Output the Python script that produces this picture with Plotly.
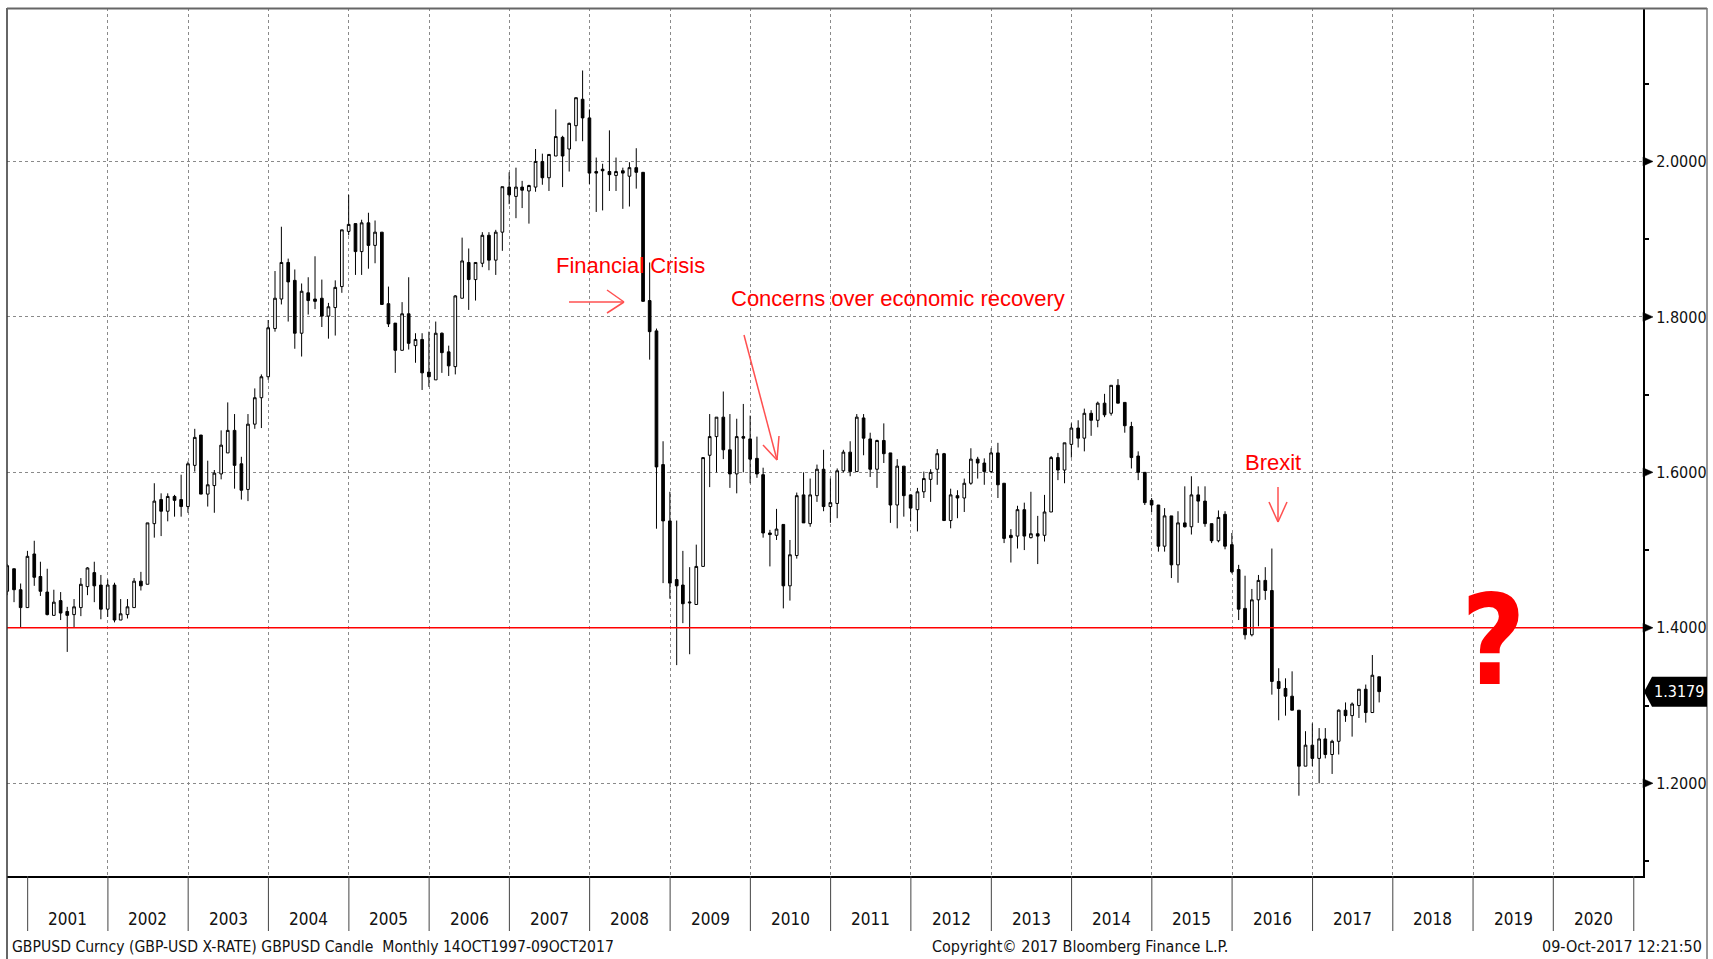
import pandas as pd
import plotly.graph_objects as go

# ---------------- data (monthly GBPUSD candles, Sep 2000 - Oct 2017) ----------------
first_month = "2000-09-30"
n_months = 206
dates = pd.date_range(first_month, periods=n_months, freq=pd.offsets.MonthEnd()).strftime("%Y-%m-%d").tolist()

opens = [
    1.447, 1.476, 1.449, 1.426,
    1.495, 1.466, 1.446, 1.416, 1.435, 1.421, 1.417, 1.426, 1.453, 1.471, 1.455, 1.424,
    1.455, 1.410, 1.417, 1.426, 1.460, 1.456, 1.534, 1.565, 1.550, 1.569, 1.565, 1.556,
    1.609, 1.648, 1.572, 1.583, 1.598, 1.625, 1.654, 1.611, 1.578, 1.662, 1.696, 1.723,
    1.785, 1.823, 1.870, 1.847, 1.779, 1.831, 1.823, 1.824, 1.801, 1.812, 1.839, 1.910,
    1.920, 1.884, 1.921, 1.892, 1.909, 1.817, 1.792, 1.757, 1.804, 1.763, 1.771, 1.729,
    1.719, 1.779, 1.755, 1.736, 1.824, 1.870, 1.848, 1.869, 1.905, 1.873, 1.909, 1.967,
    1.955, 1.967, 1.962, 1.967, 2.000, 1.979, 2.007, 2.031, 2.016, 2.046, 2.080, 2.056,
    1.987, 1.990, 1.987, 1.982, 1.988, 1.981, 1.992, 1.986, 1.821, 1.782, 1.610, 1.5375,
    1.462, 1.455, 1.432, 1.430, 1.479, 1.622, 1.646, 1.671, 1.629, 1.598, 1.646, 1.643,
    1.618, 1.597, 1.522, 1.519, 1.533, 1.454, 1.493, 1.571, 1.534, 1.570, 1.604, 1.556,
    1.560, 1.602, 1.626, 1.601, 1.670, 1.643, 1.604, 1.641, 1.625, 1.558, 1.608, 1.571,
    1.552, 1.575, 1.591, 1.604, 1.624, 1.538, 1.570, 1.567, 1.586, 1.617, 1.612, 1.601,
    1.625, 1.586, 1.519, 1.518, 1.552, 1.516, 1.521, 1.519, 1.549, 1.619, 1.603, 1.636,
    1.657, 1.644, 1.676, 1.667, 1.689, 1.676, 1.712, 1.690, 1.659, 1.621, 1.600, 1.564,
    1.558, 1.505, 1.544, 1.481, 1.535, 1.530, 1.571, 1.563, 1.534, 1.512, 1.546, 1.507,
    1.475, 1.425, 1.391, 1.436, 1.461, 1.448, 1.331, 1.322, 1.312, 1.294, 1.222, 1.249,
    1.232, 1.257, 1.237, 1.254, 1.294, 1.287, 1.300, 1.321, 1.291, 1.337,
]
highs = [
    1.482, 1.476, 1.457, 1.499,
    1.512, 1.485, 1.476, 1.449, 1.446, 1.427, 1.437, 1.464, 1.478, 1.485, 1.468, 1.462,
    1.458, 1.437, 1.437, 1.464, 1.472, 1.535, 1.586, 1.573, 1.573, 1.571, 1.597, 1.614,
    1.656, 1.648, 1.615, 1.603, 1.654, 1.690, 1.675, 1.620, 1.675, 1.708, 1.726, 1.796,
    1.859, 1.916, 1.875, 1.861, 1.843, 1.851, 1.878, 1.848, 1.818, 1.847, 1.912, 1.957,
    1.920, 1.925, 1.934, 1.924, 1.909, 1.839, 1.792, 1.819, 1.851, 1.779, 1.779, 1.781,
    1.794, 1.780, 1.763, 1.828, 1.902, 1.888, 1.870, 1.909, 1.909, 1.912, 1.9675, 1.986,
    1.992, 1.975, 1.970, 2.016, 2.010, 2.009, 2.067, 2.033, 2.050, 2.082, 2.117, 2.067,
    2.005, 1.997, 2.040, 2.005, 1.992, 1.999, 2.017, 1.986, 1.870, 1.785, 1.640, 1.575,
    1.538, 1.499, 1.478, 1.507, 1.619, 1.675, 1.671, 1.704, 1.675, 1.669, 1.688, 1.673,
    1.646, 1.606, 1.526, 1.553, 1.533, 1.513, 1.574, 1.600, 1.592, 1.610, 1.629, 1.592,
    1.605, 1.629, 1.640, 1.675, 1.675, 1.651, 1.642, 1.663, 1.625, 1.617, 1.608, 1.571,
    1.580, 1.601, 1.604, 1.630, 1.625, 1.579, 1.577, 1.592, 1.631, 1.620, 1.618, 1.631,
    1.638, 1.586, 1.527, 1.557, 1.561, 1.575, 1.544, 1.571, 1.621, 1.625, 1.638, 1.663,
    1.667, 1.682, 1.680, 1.691, 1.701, 1.712, 1.720, 1.690, 1.665, 1.627, 1.600, 1.567,
    1.558, 1.554, 1.544, 1.550, 1.582, 1.595, 1.582, 1.582, 1.534, 1.551, 1.550, 1.522,
    1.481, 1.467, 1.450, 1.468, 1.478, 1.502, 1.348, 1.335, 1.344, 1.294, 1.267, 1.277,
    1.271, 1.271, 1.256, 1.295, 1.304, 1.304, 1.321, 1.327, 1.365, 1.337,
]
lows = [
    1.442, 1.433, 1.400, 1.426,
    1.454, 1.441, 1.416, 1.416, 1.410, 1.369, 1.400, 1.415, 1.442, 1.433, 1.411, 1.414,
    1.407, 1.410, 1.412, 1.426, 1.448, 1.456, 1.516, 1.518, 1.537, 1.543, 1.543, 1.548,
    1.601, 1.572, 1.556, 1.548, 1.591, 1.625, 1.579, 1.565, 1.563, 1.656, 1.657, 1.719,
    1.781, 1.816, 1.794, 1.759, 1.749, 1.803, 1.810, 1.787, 1.772, 1.776, 1.831, 1.905,
    1.854, 1.854, 1.862, 1.869, 1.816, 1.787, 1.728, 1.757, 1.758, 1.741, 1.706, 1.710,
    1.719, 1.728, 1.724, 1.726, 1.824, 1.809, 1.821, 1.864, 1.860, 1.854, 1.885, 1.945,
    1.927, 1.940, 1.920, 1.961, 1.970, 1.962, 2.007, 1.967, 1.987, 2.026, 2.026, 1.971,
    1.935, 1.937, 1.962, 1.962, 1.939, 1.942, 1.965, 1.820, 1.745, 1.5275, 1.4575, 1.4375,
    1.352, 1.406, 1.366, 1.430, 1.479, 1.581, 1.600, 1.617, 1.580, 1.573, 1.600, 1.586,
    1.593, 1.516, 1.479, 1.513, 1.425, 1.435, 1.489, 1.535, 1.530, 1.562, 1.550, 1.535,
    1.541, 1.600, 1.595, 1.601, 1.622, 1.594, 1.580, 1.612, 1.535, 1.528, 1.543, 1.537,
    1.524, 1.567, 1.562, 1.584, 1.538, 1.528, 1.541, 1.549, 1.584, 1.592, 1.584, 1.599,
    1.567, 1.509, 1.484, 1.502, 1.500, 1.515, 1.482, 1.511, 1.549, 1.590, 1.586, 1.619,
    1.632, 1.627, 1.647, 1.658, 1.671, 1.673, 1.689, 1.651, 1.605, 1.590, 1.558, 1.549,
    1.498, 1.498, 1.464, 1.458, 1.529, 1.520, 1.535, 1.530, 1.509, 1.510, 1.501, 1.470,
    1.410, 1.385, 1.389, 1.402, 1.436, 1.314, 1.281, 1.287, 1.294, 1.184, 1.222, 1.222,
    1.200, 1.232, 1.212, 1.237, 1.279, 1.260, 1.284, 1.278, 1.291, 1.304,
]
closes = [
    1.480, 1.449, 1.426, 1.492,
    1.465, 1.447, 1.417, 1.433, 1.419, 1.416, 1.427, 1.456, 1.477, 1.454, 1.424, 1.455,
    1.410, 1.418, 1.427, 1.460, 1.454, 1.535, 1.563, 1.550, 1.569, 1.564, 1.556, 1.611,
    1.645, 1.572, 1.584, 1.599, 1.635, 1.654, 1.609, 1.577, 1.662, 1.696, 1.723, 1.786,
    1.824, 1.870, 1.845, 1.779, 1.833, 1.821, 1.820, 1.801, 1.813, 1.838, 1.912, 1.919,
    1.884, 1.921, 1.892, 1.909, 1.816, 1.791, 1.757, 1.804, 1.766, 1.771, 1.728, 1.723,
    1.779, 1.754, 1.737, 1.827, 1.872, 1.848, 1.870, 1.905, 1.873, 1.909, 1.9675, 1.957,
    1.967, 1.963, 1.969, 2.000, 1.979, 2.009, 2.032, 2.007, 2.049, 2.082, 2.056, 1.985,
    1.985, 1.988, 1.983, 1.987, 1.985, 1.992, 1.986, 1.820, 1.781, 1.607, 1.5375, 1.4575,
    1.454, 1.431, 1.433, 1.479, 1.619, 1.646, 1.671, 1.629, 1.598, 1.646, 1.644, 1.617,
    1.598, 1.522, 1.520, 1.527, 1.454, 1.494, 1.570, 1.535, 1.571, 1.604, 1.556, 1.561,
    1.602, 1.626, 1.601, 1.671, 1.644, 1.604, 1.641, 1.624, 1.558, 1.608, 1.570, 1.554,
    1.575, 1.592, 1.600, 1.624, 1.538, 1.571, 1.567, 1.586, 1.617, 1.612, 1.601, 1.625,
    1.584, 1.515, 1.516, 1.552, 1.518, 1.521, 1.518, 1.549, 1.619, 1.603, 1.638, 1.657,
    1.644, 1.676, 1.667, 1.689, 1.674, 1.712, 1.689, 1.660, 1.619, 1.600, 1.561, 1.558,
    1.505, 1.544, 1.481, 1.535, 1.530, 1.571, 1.563, 1.534, 1.512, 1.542, 1.505, 1.472,
    1.424, 1.391, 1.436, 1.461, 1.448, 1.331, 1.322, 1.312, 1.294, 1.222, 1.249, 1.232,
    1.257, 1.237, 1.254, 1.294, 1.287, 1.302, 1.321, 1.291, 1.339, 1.3179,
]

year_labels = [str(y) for y in range(2001, 2021)]
price_ticks = [1.2, 1.4, 1.6, 1.8, 2.0]
price_ticktext = ["1.2000", "1.4000", "1.6000", "1.8000", "2.0000"]
minor_ticks = [1.1, 1.3, 1.5, 1.7, 1.9, 2.1]
reference_level = 1.4
last_price = 1.3179
last_price_text = "1.3179"

notes = ["Financial Crisis", "Concerns over economic recovery", "Brexit"]
footer_left = "GBPUSD Curncy (GBP-USD X-RATE) GBPUSD Candle\u00a0 Monthly 14OCT1997-09OCT2017"
footer_mid = "Copyright\u00a9 2017 Bloomberg Finance L.P."
footer_right = "09-Oct-2017 12:21:50"

# ---------------- layout geometry (pixels) ----------------
W, H = 1713, 959
L, R, T, B = 7, 1643, 8, 876
Y_RANGE = [1.0807, 2.1974]
X_RANGE = ["2000-09-29", "2021-02-12"]
PPU = (B - T) / (Y_RANGE[1] - Y_RANGE[0])  # pixels per price unit


def PX(x):
    return (x - L) / (R - L)


def PY(y):
    return (B - y) / (B - T)


NARROW = "Liberation Sans Narrow, Arial Narrow, DejaVu Sans Condensed, sans-serif"
SANS = "Liberation Sans, Arial, sans-serif"
RED = "#ff0000"
ARROW = "#ff5050"

fig = go.Figure()
fig.add_trace(go.Candlestick(
    x=dates, open=opens, high=highs, low=lows, close=closes,
    increasing=dict(line=dict(color="black", width=1), fillcolor="white"),
    decreasing=dict(line=dict(color="black", width=1), fillcolor="black"),
    whiskerwidth=0, hoverinfo="skip", showlegend=False,
))

shapes = []
# reference level line
shapes.append(dict(type="line", xref="paper", yref="y", x0=0, x1=1,
                   y0=reference_level, y1=reference_level,
                   line=dict(color=RED, width=1.5), layer="above"))


def seg(x0, y0, x1, y1, color=ARROW, width=1.5):
    return dict(type="line", xref="paper", yref="paper",
                x0=PX(x0), y0=PY(y0), x1=PX(x1), y1=PY(y1),
                line=dict(color=color, width=width), layer="above")


# arrows (open V heads)
shapes += [
    seg(569, 302, 624, 302), seg(607, 290, 624, 302), seg(607, 313, 624, 302),
    seg(744, 335, 777, 460), seg(763, 445, 777, 460), seg(779, 436, 777, 460),
    seg(1278, 487, 1278, 522), seg(1269, 502, 1278, 522), seg(1287, 502, 1278, 522),
]

# band separators below plot
for yr in range(2001, 2022):
    shapes.append(dict(type="line", xref="x", yref="paper",
                       x0=f"{yr}-01-01", x1=f"{yr}-01-01", y0=0, y1=PY(931),
                       line=dict(color="#444444", width=1)))

# frame lines
shapes += [
    dict(type="line", xref="paper", yref="paper", x0=PX(7), x1=PX(7), y0=PY(8), y1=PY(959),
         line=dict(color="#333333", width=1.5)),
    dict(type="line", xref="paper", yref="paper", x0=PX(7), x1=PX(1707), y0=PY(8.5), y1=PY(8.5),
         line=dict(color="#666666", width=2)),
    dict(type="line", xref="paper", yref="paper", x0=PX(1707), x1=PX(1707), y0=PY(8), y1=PY(959),
         line=dict(color="#777777", width=1.5)),
]

# tick triangles on right axis
th = 4.5 / PPU
for v in price_ticks:
    shapes.append(dict(type="path", xref="paper", yref="y",
                       path=f"M {PX(1643)},{v - th} L {PX(1653)},{v} L {PX(1643)},{v + th} Z",
                       fillcolor="black", line=dict(color="black", width=0.5)))

# last price tag
hh = 15 / PPU
shapes.append(dict(type="path", xref="paper", yref="y",
                   path=(f"M {PX(1644)},{last_price} L {PX(1652)},{last_price + hh} "
                         f"L {PX(1707)},{last_price + hh} L {PX(1707)},{last_price - hh} "
                         f"L {PX(1652)},{last_price - hh} Z"),
                   fillcolor="black", line=dict(color="black", width=0)))

annotations = []
# red notes
for txt, (ax, ay) in zip(notes, [(554, 265), (729, 298), (1243, 462)]):
    annotations.append(dict(text=txt, xref="paper", yref="paper", x=PX(ax), y=PY(ay),
                            xanchor="left", yanchor="middle", showarrow=False,
                            font=dict(family=SANS, size=22, color=RED)))
annotations.append(dict(text="<b>?</b>", xref="paper", yref="paper", x=PX(1493), y=PY(641),
                        xanchor="center", yanchor="middle", showarrow=False,
                        font=dict(family=NARROW, size=124, color=RED)))
# last price text
annotations.append(dict(text=last_price_text, xref="paper", yref="y", x=PX(1679), y=last_price,
                        xanchor="center", yanchor="middle", showarrow=False,
                        font=dict(family=NARROW, size=16, color="white")))
# year labels
for lab in year_labels:
    annotations.append(dict(text=lab, xref="x", yref="paper", x=f"{lab}-07-02", y=PY(919),
                            xanchor="center", yanchor="middle", showarrow=False,
                            font=dict(family=NARROW, size=17, color="#111111")))
# footer
annotations += [
    dict(text=footer_left, xref="paper", yref="paper", x=PX(10), y=PY(947),
         xanchor="left", yanchor="middle", showarrow=False,
         font=dict(family=NARROW, size=15.6, color="#111111")),
    dict(text=footer_mid, xref="paper", yref="paper", x=PX(1080), y=PY(947),
         xanchor="center", yanchor="middle", showarrow=False,
         font=dict(family=NARROW, size=16, color="#111111")),
    dict(text=footer_right, xref="paper", yref="paper", x=PX(1704), y=PY(947),
         xanchor="right", yanchor="middle", showarrow=False,
         font=dict(family=NARROW, size=16, color="#111111")),
]

fig.update_layout(
    width=W, height=H, autosize=False,
    margin=dict(l=L, r=W - R, t=T, b=H - B, pad=0, autoexpand=False),
    paper_bgcolor="white", plot_bgcolor="white",
    font=dict(family=NARROW, size=16, color="#111111"),
    boxgap=0.38,
    showlegend=False,
    shapes=shapes, annotations=annotations,
    xaxis=dict(type="date", range=X_RANGE, automargin=False,
               tickvals=[f"{y}-01-01" for y in range(2002, 2021)],
               showticklabels=False, ticks="",
               showgrid=True, gridcolor="#8a8a8a", griddash="dot", gridwidth=1,
               showline=True, linecolor="black", linewidth=1.5,
               zeroline=False, rangeslider=dict(visible=False), fixedrange=True),
    yaxis=dict(side="right", range=Y_RANGE, automargin=False,
               tickvals=price_ticks, ticktext=price_ticktext,
               ticks="", ticklabelstandoff=8,
               tickfont=dict(family=NARROW, size=16, color="#111111"),
               showgrid=True, gridcolor="#8a8a8a", griddash="dot", gridwidth=1,
               minor=dict(tickvals=minor_ticks, ticks="outside", ticklen=4,
                          tickcolor="black", tickwidth=1.5, showgrid=False),
               showline=True, linecolor="black", linewidth=2,
               zeroline=False, fixedrange=True),
)

fig.write_html(
    "out.html",
    config={"responsive": False, "displayModeBar": False},
    default_width="1713px", default_height="959px",
    post_script="document.body.style.margin='0';document.body.style.overflow='hidden';",
)
